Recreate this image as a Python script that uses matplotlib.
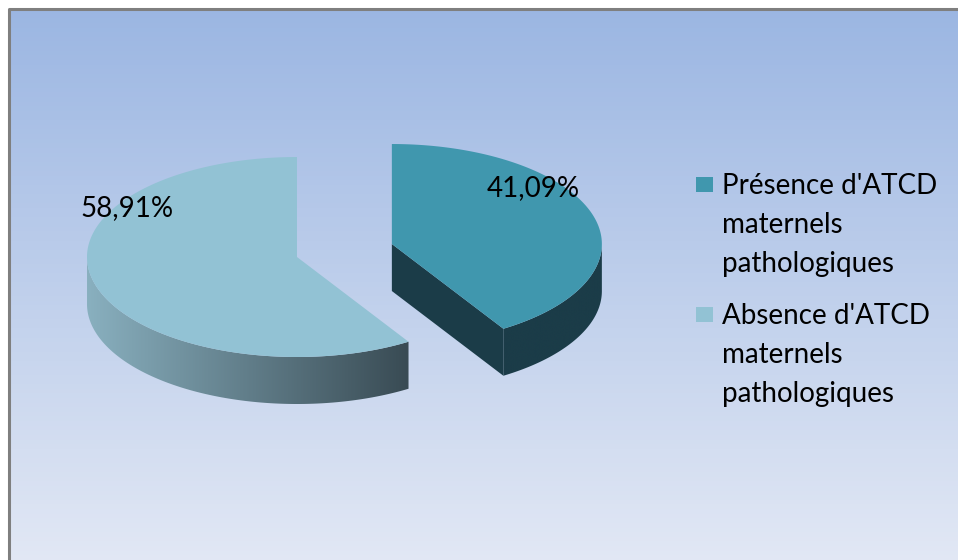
import numpy as np
import matplotlib
matplotlib.use('Agg')
import matplotlib.pyplot as plt
from matplotlib.patches import Polygon, Rectangle
from matplotlib.colors import LinearSegmentedColormap

# data
labels = ["Présence d'ATCD\nmaternels\npathologiques",
          "Absence d'ATCD\nmaternels\npathologiques"]
values = [41.09, 58.91]
value_text = ['41,09%', '58,91%']

# styling
top_colors = ['#4097ae', '#92c2d4']
wall_colors = [['#1b3c48', '#1b3c48'], ['#89b0bf', '#394b54']]
explode = [0.47, 0.0]
label_xy = [(533, 188), (127, 208)]
font = 'Lato'
fsize = 20

# pie geometry, in pixel units of a full-figure axes
cx, cy = 297, 257
rx, ry = 210, 100
depth = 47

fig = plt.figure(figsize=(9.58, 5.6), dpi=100)
ax = fig.add_axes([0, 0, 1, 1])

# background with a vertical gradient, grey frame on the left and top
bg = LinearSegmentedColormap.from_list('bg', ['#9bb6e2', '#e1e7f4'])
yy = np.linspace(9, 560, 120)
ax.pcolormesh([9, 958], yy, np.linspace(0, 1, len(yy) - 1).reshape(-1, 1),
              cmap=bg, shading='flat', zorder=0, antialiased=False,
              edgecolors='none')
ax.plot([9, 9, 958], [560, 9, 9], color='#7f7f7f', lw=2.2, zorder=1)


def pt(c, phi, dz=0.0):
    r = np.radians(phi)
    return c[0] + rx * np.cos(r), c[1] - ry * np.sin(r) + dz


def fill_shaded(poly_xy, cols, z):
    poly = Polygon(poly_xy, closed=True, facecolor='none', edgecolor='none')
    ax.add_patch(poly)
    cmap = LinearSegmentedColormap.from_list('w', cols)
    xs = poly_xy[:, 0]
    ys = poly_xy[:, 1]
    im = ax.imshow(np.linspace(0, 1, 256).reshape(1, -1),
                   extent=(xs.min(), xs.max(), ys.max(), ys.min()),
                   cmap=cmap, aspect='auto', zorder=z)
    im.set_clip_path(poly)


total = sum(values)
start = 90.0
slices = []
for i, v in enumerate(values):
    span = v / total * 360.0
    t1, t2 = start - span, start
    start = t1
    mid = np.radians((t1 + t2) / 2)
    c = (cx + explode[i] * rx * np.cos(mid), cy - explode[i] * ry * np.sin(mid))
    slices.append((i, t1, t2, c))

# side walls and cut faces
for i, t1, t2, c in slices:
    cols = wall_colors[i]
    phis = np.linspace(t1, t2, 600)
    front = np.sin(np.radians(phis)) < 0
    runs = []
    cur = []
    for p, f in zip(phis, front):
        if f:
            cur.append(p)
        elif cur:
            runs.append(cur)
            cur = []
    if cur:
        runs.append(cur)
    for run in runs:
        run = np.array(run)
        top = np.array([pt(c, p) for p in run])
        bot = np.array([pt(c, p, depth) for p in run[::-1]])
        fill_shaded(np.vstack([top, bot]), cols, 2)
    # radial faces
    for edge, normal in ((t2, t2 + 90), (t1, t1 - 90)):
        if np.sin(np.radians(normal)) < -1e-6:
            rim = pt(c, edge)
            face = np.array([c, rim, (rim[0], rim[1] + depth),
                             (c[0], c[1] + depth)])
            ax.add_patch(Polygon(face, closed=True, facecolor=cols[0],
                                 edgecolor='none', zorder=2))

# top faces
for i, t1, t2, c in slices:
    arc = np.array([pt(c, p) for p in np.linspace(t1, t2, 300)])
    ax.add_patch(Polygon(np.vstack([[c], arc]), closed=True,
                         facecolor=top_colors[i], edgecolor='none', zorder=3))

for (x, y), s in zip(label_xy, value_text):
    ax.text(x, y, s, ha='center', va='center', fontsize=fsize,
            fontfamily=font, color='black', zorder=4)

# legend: one square per entry, label lines laid out one by one
leg_base = [194, 324]
line_step = 39
for i in range(len(labels)):
    ax.add_patch(Rectangle((696, leg_base[i] - 17), 17, 15,
                           facecolor=top_colors[i], edgecolor='none', zorder=4))
    for k, line in enumerate(labels[i].split('\n')):
        ax.text(722, leg_base[i] + k * line_step, line, ha='left',
                va='baseline', fontsize=fsize, fontfamily=font,
                color='black', zorder=4)

ax.set_xlim(0, 958)
ax.set_ylim(560, 0)
ax.axis('off')
fig.savefig('out.png', dpi=100, facecolor='white')
